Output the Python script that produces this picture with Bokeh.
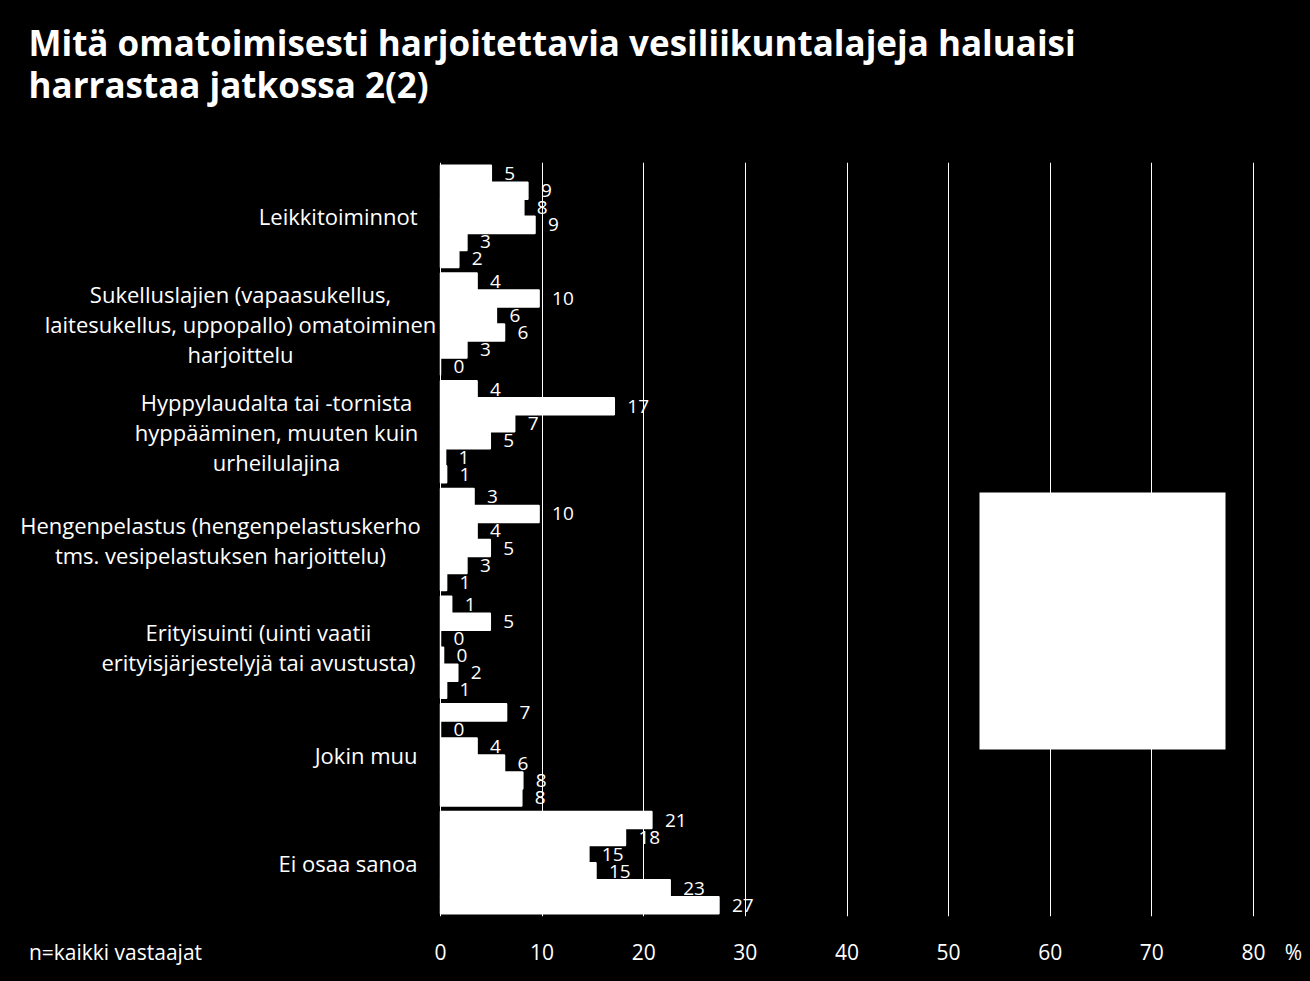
from bokeh.plotting import figure
from bokeh.models import Range1d, BoxAnnotation, FixedTicker
from bokeh.core.properties import value
from bokeh.embed import file_html
from bokeh.resources import INLINE

# ---------------- data ----------------
categories = [
    "Leikkitoiminnot",
    "Sukelluslajien (vapaasukellus,\nlaitesukellus, uppopallo) omatoiminen\nharjoittelu",
    "Hyppylaudalta tai -tornista\nhyppääminen, muuten kuin\nurheilulajina",
    "Hengenpelastus (hengenpelastuskerho\ntms. vesipelastuksen harjoittelu)",
    "Erityisuinti (uinti vaatii\nerityisjärjestelyjä tai avustusta)",
    "Jokin muu",
    "Ei osaa sanoa",
]
s1 = [5.0, 3.6, 3.6, 3.3, 1.1, 6.5, 20.8]
s2 = [8.6, 9.7, 17.1, 9.7, 4.9, 0.0, 18.2]
s3 = [8.2, 5.5, 7.3, 3.6, 0.0, 3.6, 14.6]
s4 = [9.3, 6.3, 4.9, 4.9, 0.3, 6.3, 15.3]
s5 = [2.6, 2.6, 0.5, 2.6, 1.7, 8.1, 22.6]
s6 = [1.8, 0.0, 0.6, 0.6, 0.6, 8.0, 27.4]
series = [s1, s2, s3, s4, s5, s6]
x_ticks = [0, 10, 20, 30, 40, 50, 60, 70, 80]

title_lines = ["Mitä omatoimisesti harjoitettavia vesiliikuntalajeja haluaisi",
               "harrastaa jatkossa 2(2)"]
footnote = "n=kaikki vastaajat"
unit = "%"

# ---------------- layout ----------------
FONT = "Open Sans"
W, H = 1310, 981
X0_PX, X80_PX = 440, 1253          # where 0 and 80 sit on the canvas
FT, FB = 162, 916                  # frame top / bottom
pxu = (X80_PX - X0_PX) / 80.0

p = figure(width=W, height=H, output_backend="svg", toolbar_location=None,
           x_range=Range1d(-X0_PX / pxu, 80 + (W - X80_PX) / pxu),
           y_range=Range1d(0, len(categories)),
           min_border_left=0, min_border_right=0,
           min_border_top=FT, min_border_bottom=H - FB)
p.background_fill_color = None
p.border_fill_color = "black"
p.outline_line_color = None
p.yaxis.visible = False
p.ygrid.visible = False

# gridlines (the one at 0 acts as the value axis line)
p.xgrid.ticker = FixedTicker(ticks=x_ticks)
p.xgrid.grid_line_color = "white"
p.xgrid.grid_line_width = 1

# x axis: numbers, plus the footnote and the unit on the same row
foot_x = (115 - X0_PX) / pxu
unit_x = (1293 - X0_PX) / pxu
xa = p.xaxis[0]
xa.ticker = FixedTicker(ticks=[foot_x] + x_ticks + [unit_x])
xa.major_label_overrides = {foot_x: footnote, unit_x: unit}
xa.axis_line_color = None
xa.major_tick_line_color = None
xa.major_tick_out = 0
xa.major_tick_in = 0
xa.minor_tick_line_color = None
xa.major_label_text_color = "white"
xa.major_label_text_font = FONT
xa.major_label_text_font_size = "21px"
xa.major_label_standoff = 21

# title: two lines, with an empty trailing line keeping it clear of the plot
p.title.text = "\n".join(title_lines) + "\n"
p.title.align = "left"
p.title.offset = 28
p.title.text_color = "white"
p.title.text_font = FONT
p.title.text_font_style = "bold"
p.title.text_font_size = "35px"
p.title.text_line_height = 0.9
p.title.standoff = 24

n = len(categories)
bw = 0.158
for s_idx, vals in enumerate(series):
    ys = [(n - 1 - i) + 0.5 + (2.5 - s_idx) * bw for i in range(n)]
    p.hbar(y=ys, left=0, right=vals, height=bw, fill_color="white",
           line_color="white", line_width=1.5)
    p.text(x=vals, y=ys, text=[str(int(v + 0.5)) for v in vals], x_offset=13,
           text_align="left", text_baseline="middle", text_color="white",
           text_font=value(FONT), text_font_size="19px")

# legend area (white box, no visible entries)
p.add_layout(BoxAnnotation(left=(979 - X0_PX) / pxu, right=(1225 - X0_PX) / pxu,
                           bottom=1.55, top=3.936,
                           fill_color="white", fill_alpha=1.0, line_color=None))

# category labels: centred multi-line blocks ending near the axis
label_centers = [None, 240, 276, 220, 258, None, None]
for i, cat in enumerate(categories):
    yc = (n - 1 - i) + 0.5
    c = label_centers[i]
    if c is None:
        off, align = 417 - X0_PX, "right"
    else:
        off, align = c - X0_PX, "center"
    p.text(x=[0], y=[yc], text=[cat], x_offset=off, text_align=align,
           text_baseline="middle", text_line_height=1.0, text_color="white",
           text_font=value(FONT), text_font_size="22px")

html = file_html(p, INLINE)
html = html.replace("</head>", "<style>html,body{background:#000;}</style></head>", 1)
open("out.html", "w").write(html)
